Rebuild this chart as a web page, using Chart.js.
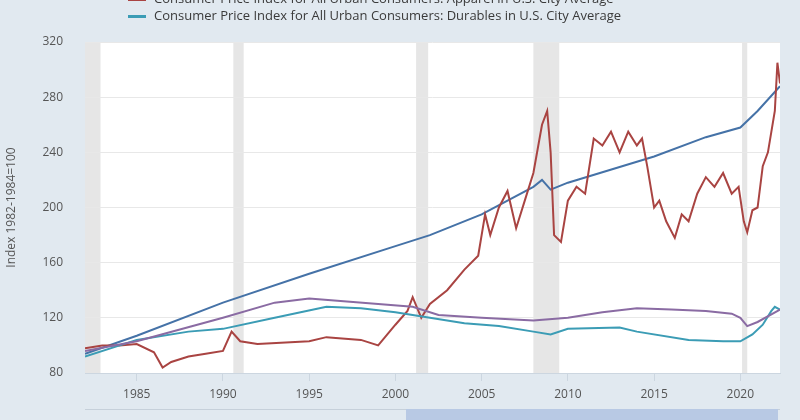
<!DOCTYPE html>
<html><head><meta charset="utf-8">
<script src="https://cdn.jsdelivr.net/npm/chart.js@4"></script>
<style>
body{margin:0;background:#e1e9f0;font-family:"Open Sans",sans-serif;}
#wrap{position:relative;width:800px;height:420px;overflow:hidden;}
.lg{position:absolute;left:128px;font-size:13px;color:#3a3a3a;white-space:nowrap;}
.lg span{display:inline-block;width:18px;height:3px;vertical-align:middle;margin-right:8px;}
#nav{position:absolute;left:85px;top:409px;width:695px;height:1px;background:#c6d0da;}
#navsel{position:absolute;left:406px;top:409px;width:372px;height:11px;background:#b8c9e4;}
</style></head><body>
<div id="wrap">
<canvas id="c" width="800" height="420"></canvas>
<div class="lg" style="top:-11px"><span style="background:#a94442"></span>Consumer Price Index for All Urban Consumers: Apparel in U.S. City Average</div>
<div class="lg" style="top:6px"><span style="background:#3b9cb5"></span>Consumer Price Index for All Urban Consumers: Durables in U.S. City Average</div>
<div id="nav"></div><div id="navsel"></div>
</div>
<script>
const blueX=[1982,1985,1990,1995,2000,2002,2005,2008,2008.5,2009,2010,2015,2018,2020,2021,2022.3];
const blueY=[94,107,131,152,172,180,195,215,220,213,218,237,251,258,270,288];
const redX=[1982,1983,1984,1985,1986,1986.5,1987,1988,1989,1990,1990.5,1991,1992,1995,1996,1998,1999,2000,2000.7,2001,2001.5,2002,2003,2004,2004.8,2005.2,2005.5,2006,2006.5,2007,2007.5,2008,2008.5,2008.8,2009,2009.2,2009.6,2010,2010.5,2011,2011.5,2012,2012.5,2013,2013.5,2014,2014.3,2014.6,2015,2015.3,2015.7,2016.2,2016.6,2017,2017.5,2018,2018.5,2019,2019.5,2019.9,2020.2,2020.4,2020.7,2021,2021.3,2021.6,2022,2022.15,2022.3];
const redY=[98,100,100,101,95,84,88,92,94,96,110,103,101,103,106,104,100,115,125,135,120,130,140,155,165,195,180,200,212,185,205,225,260,270,240,180,175,205,215,210,250,245,255,240,255,245,250,230,200,205,190,178,195,190,210,222,215,225,210,215,190,182,198,200,230,240,270,305,290];
const purpX=[1982,1985,1990,1993,1995,1997,1999,2001,2002.5,2005,2008,2010,2012,2014,2016,2018,2019.5,2020,2020.4,2021,2022.3];
const purpY=[96,103,120,131,134,132,130,128,122,120,118,120,124,127,126,125,123,120,114,117,126];
const tealX=[1982,1985,1988,1990,1993,1996,1998,2000,2002,2004,2006,2008,2009,2010,2013,2014,2017,2019,2020,2020.7,2021.3,2021.8,2022,2022.3];
const tealY=[92,104,110,112,120,128,127,124,120,116,114,110,108,112,113,110,104,103,103,108,115,125,128,126];
const recessions=[[1982.0,1982.9],[1990.6,1991.2],[2001.2,2001.9],[2008.0,2009.5],[2020.1,2020.4]];
const yTicks=[80,120,160,200,240,280,320];
const xTicks=[1985,1990,1995,2000,2005,2010,2015,2020];
const pts=(xs,ys)=>xs.map((x,i)=>({x,y:ys[i]}));
const bg={id:'bg',beforeDraw(ch){const c=ch.ctx,a=ch.chartArea,x=ch.scales.x;c.save();c.fillStyle='#e1e9f0';c.fillRect(0,0,ch.width,ch.height);c.fillStyle='#fff';c.fillRect(a.left,a.top,a.right-a.left,a.bottom-a.top);c.fillStyle='#e6e6e6';recessions.forEach(r=>{const l=Math.max(a.left,x.getPixelForValue(r[0]));c.fillRect(l,a.top,x.getPixelForValue(r[1])-l,a.bottom-a.top);});c.restore();}};
const ds=(d,col)=>({data:d,borderColor:col,borderWidth:2,pointRadius:0,tension:0,fill:false});
new Chart(document.getElementById('c'),{type:'line',
data:{datasets:[ds(pts(purpX,purpY),'#8a6ba3'),ds(pts(tealX,tealY),'#3b9cb5'),ds(pts(redX,redY),'#a94442'),ds(pts(blueX,blueY),'#4572a7')]},
options:{responsive:false,animation:false,layout:{padding:{top:42,right:20,bottom:0,left:0}},
plugins:{legend:{display:false},tooltip:{enabled:false}},
scales:{x:{type:'linear',min:1982,max:2022.3,afterBuildTicks(s){s.ticks=xTicks.map(v=>({value:v}));},
afterFit(s){s.height=47;},
ticks:{callback:v=>String(v),color:'#555',font:{family:'Open Sans',size:12},maxRotation:0,padding:6},
grid:{display:true,drawOnChartArea:false,tickLength:8,color:'#ccd6e0'},border:{color:'#ccd6e0'}},
y:{min:80,max:320,afterBuildTicks(s){s.ticks=yTicks.map(v=>({value:v}));},afterFit(s){s.width=85;},
ticks:{color:'#555',font:{family:'Open Sans',size:12},padding:22},
grid:{color:'#e8e8e8',drawTicks:false},border:{display:false},
title:{display:true,text:'Index 1982-1984=100',color:'#555',font:{family:'Open Sans',size:12}}}}},
plugins:[bg]});
</script></body></html>
